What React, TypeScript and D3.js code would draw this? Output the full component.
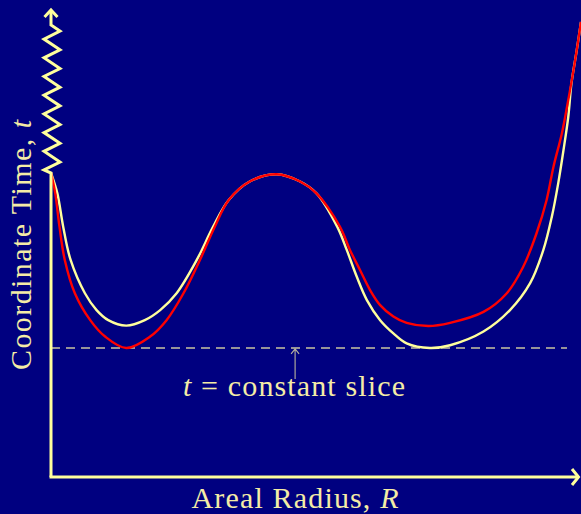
import React, { useRef, useEffect } from 'react';
import * as d3 from 'd3';

const W = 581;
const H = 514;

// yellow curve (areal radius R, coordinate time t)
const yellowR = [0, 0.12, 0.23, 0.37, 0.64, 0.86, 1.08, 1.42, 1.77, 2.06, 2.37, 2.75, 3.06, 3.35, 3.75, 4.26, 4.7, 5.01, 5.4, 5.58, 5.77, 5.96, 6.21, 6.46, 6.71, 7.15, 7.53, 8.16, 8.66, 9.04, 9.29, 9.45, 9.57, 9.67, 9.76, 9.82, 9.92, 10];
const yellowT = [6.67, 6.22, 5.49, 4.76, 4.03, 3.66, 3.44, 3.32, 3.44, 3.66, 4.03, 4.76, 5.49, 6.07, 6.48, 6.64, 6.48, 6.22, 5.49, 4.98, 4.39, 3.88, 3.44, 3.15, 2.93, 2.83, 2.89, 3.19, 3.66, 4.25, 4.98, 5.71, 6.44, 7.17, 7.9, 8.63, 9.36, 9.98];

// red curve
const redR = [0, 0.08, 0.16, 0.26, 0.45, 0.74, 1.02, 1.42, 1.87, 2.18, 2.5, 2.81, 3.09, 3.35, 3.75, 4.26, 4.7, 5.01, 5.45, 5.64, 5.83, 6.02, 6.21, 6.46, 6.71, 7.12, 7.53, 8.16, 8.6, 8.91, 9.16, 9.35, 9.48, 9.64, 9.76, 9.87, 10];
const redT = [6.67, 6.22, 5.49, 4.76, 4.03, 3.44, 3.08, 2.83, 3.08, 3.44, 4.03, 4.76, 5.49, 6.07, 6.48, 6.64, 6.48, 6.22, 5.49, 4.98, 4.54, 4.1, 3.77, 3.52, 3.38, 3.31, 3.38, 3.62, 4.03, 4.61, 5.34, 6.07, 6.8, 7.54, 8.27, 9.0, 9.98];

const sliceT = 2.83;
const sliceR = 4.7;

const xLabel = ['Areal Radius, ', 'R'];
const yLabel = ['Coordinate Time, ', 't'];
const sliceLabel = ['t', ' = constant slice'];

const BG = '#000080';
const YELLOW = '#ffff9c';
const RED = '#ff0000';
const TEXT = '#f4eca6';

export default function App() {
  const ref = useRef<SVGSVGElement>(null);

  useEffect(() => {
    const svg = d3.select(ref.current);
    svg.selectAll('*').remove();

    const x = d3.scaleLinear().domain([0, 10]).range([51, 581]);
    const y = d3.scaleLinear().domain([0, 10]).range([477, 21]);

    svg.append('rect').attr('width', W).attr('height', H).attr('fill', BG);

    // t = constant slice
    svg.append('line')
      .attr('x1', x(0)).attr('x2', 567)
      .attr('y1', y(sliceT)).attr('y2', y(sliceT))
      .attr('stroke', '#c9c4a0')
      .attr('stroke-width', 1.5)
      .attr('stroke-dasharray', '9,6');

    const line = d3.line<[number, number]>()
      .x(d => x(d[0]))
      .y(d => y(d[1]))
      .curve(d3.curveCatmullRom.alpha(0.5));

    const yellowPts = yellowR.map((r, i) => [r, yellowT[i]] as [number, number]);
    const redPts = redR.map((r, i) => [r, redT[i]] as [number, number]);

    svg.append('path').attr('d', line(yellowPts))
      .attr('fill', 'none').attr('stroke', YELLOW).attr('stroke-width', 2.4);
    svg.append('path').attr('d', line(redPts))
      .attr('fill', 'none').attr('stroke', RED).attr('stroke-width', 2.4);

    // axes
    const x0 = x(0);
    const y0 = y(0);
    const axis = svg.append('g')
      .attr('fill', 'none')
      .attr('stroke', YELLOW)
      .attr('stroke-width', 3)
      .attr('stroke-linejoin', 'miter');

    axis.append('path').attr('d', `M${x0 - 1.5},${y0}H578`);
    axis.append('path').attr('d', 'M572,469L578.5,477L572,485');

    // y axis: straight part, zigzag break, arrow
    const zig: [number, number][] = [[x0, y0], [x0, 173]];
    for (let k = 0; k < 8; k++) {
      zig.push([44, 170 - 18.7 * k]);
      zig.push([60, 162 - 18.7 * k]);
    }
    zig.push([x0, 25]);
    zig.push([x0, 11]);
    axis.append('path').attr('d', d3.line()(zig));
    axis.append('path').attr('d', `M${x0 - 6.5},17L${x0},10L${x0 + 6.5},17`);

    // annotation arrow
    const ax = x(sliceR) - 5;
    svg.append('path')
      .attr('d', `M${ax},379V${y(sliceT) + 1}M${ax - 4},${y(sliceT) + 6}L${ax},${y(sliceT) + 1}L${ax + 4},${y(sliceT) + 6}`)
      .attr('fill', 'none').attr('stroke', '#b8b49c').attr('stroke-width', 1.1);

    const font = 'Liberation Serif';

    const addText = (parts: string[], italicIdx: number, tx: number, ty: number, len: number, rotate = 0) => {
      const t = svg.append('text')
        .attr('font-family', font)
        .attr('font-size', 30)
        .attr('fill', TEXT)
        .attr('text-anchor', 'middle')
        .attr('textLength', len)
        .attr('lengthAdjust', 'spacing')
        .attr('transform', `translate(${tx},${ty}) rotate(${rotate})`);
      parts.forEach((p, i) => {
        t.append('tspan').attr('font-style', i === italicIdx ? 'italic' : 'normal').text(p);
      });
    };

    addText(xLabel, 1, 295, 508, 207);
    addText(sliceLabel, 0, 294, 396, 222);
    addText(yLabel, 1, 31, 245, 250, -90);
  }, []);

  return <svg ref={ref} width={W} height={H} style={{ position: 'absolute', left: 0, top: 0, display: 'block' }} />;
}
